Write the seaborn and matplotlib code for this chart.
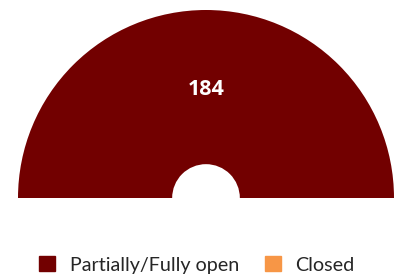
import matplotlib
matplotlib.use("Agg")
import matplotlib.pyplot as plt
import matplotlib.patches as mpatches
import seaborn as sns

# Data
categories = ["Partially/Fully open", "Closed"]
counts = [184, 0]
colors = ["#720000", "#F79646"]

sns.set_theme(style="white")
plt.rcParams["font.family"] = ["Lato", "DejaVu Sans"]

fig = plt.figure(figsize=(3.94, 2.77), dpi=100)
# half donut: the lower half is an invisible wedge of equal size
ax = fig.add_axes([18 / 394, 79 / 277, 376 / 394, 188 / 277])
values = counts + [sum(counts)]
ax.pie(values, colors=colors + ["none"], startangle=180, counterclock=False,
       radius=1, wedgeprops=dict(width=0.82, linewidth=0))
ax.set_xlim(-1, 1)
ax.set_ylim(0, 1)
ax.set_aspect("equal")
ax.axis("off")

# value label on the single non-zero segment
ax.text(0, 0.575, str(counts[0]), ha="center", va="center",
        color="white", fontsize=15.5, fontweight="bold", family="Open Sans")

handles = [mpatches.Patch(color=c, label=l) for c, l in zip(colors, categories)]
fig.legend(handles=handles, loc="center", bbox_to_anchor=(0.5, 0.043),
           ncol=2, frameon=False, fontsize=14.2, handlelength=0.8,
           handleheight=0.8, handletextpad=0.75, columnspacing=1.3)

plt.savefig("out.png", dpi=100)
